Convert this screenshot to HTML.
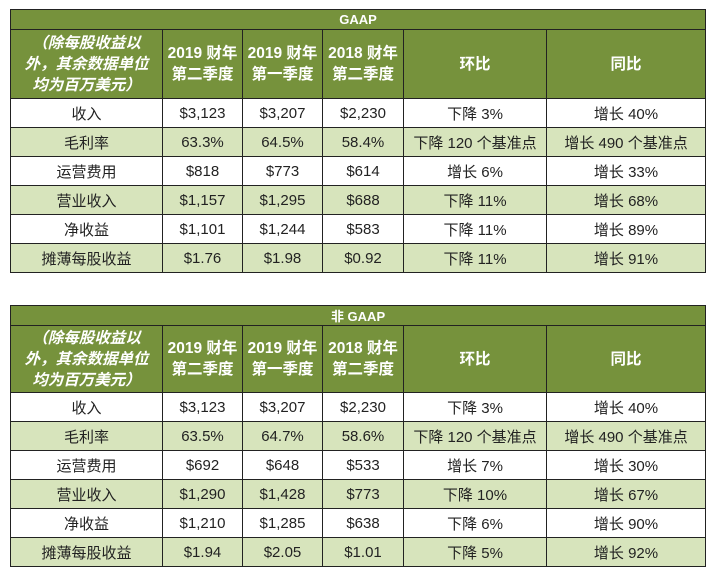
<!DOCTYPE html><html><head><meta charset="utf-8"><style>
body{margin:0;background:#fff;width:713px;height:576px;overflow:hidden;font-family:"Liberation Sans","Noto Sans CJK SC",sans-serif}
table{position:absolute;left:10px;border-collapse:collapse;table-layout:fixed;width:695px}
td{border:1px solid #222;text-align:center;padding:0;font-size:15px;color:#222;white-space:nowrap;vertical-align:middle}
.t td{background:#76923c;color:#fff;font-weight:bold;height:19px;font-size:13px}
.h td{background:#76923c;color:#fff;font-weight:bold;font-size:15.5px;line-height:21px}
.h td.i{font-style:italic;font-weight:bold}
.g td{background:#d7e4bc}
</style></head><body>
<table style="top:9px">
<colgroup><col style="width:152px"><col style="width:80px"><col style="width:80px"><col style="width:81px"><col style="width:143px"><col style="width:159px"></colgroup>
<tr class="t"><td colspan="6">GAAP</td></tr>
<tr class="h" style="height:69px"><td class="i">（除每股收益以<br>外，其余数据单位<br>均为百万美元）</td><td>2019 财年<br>第二季度</td><td>2019 财年<br>第一季度</td><td>2018 财年<br>第二季度</td><td>环比</td><td>同比</td></tr>
<tr style="height:29px"><td>收入</td><td>$3,123</td><td>$3,207</td><td>$2,230</td><td>下降 3%</td><td>增长 40%</td></tr>
<tr class="g" style="height:29px"><td>毛利率</td><td>63.3%</td><td>64.5%</td><td>58.4%</td><td>下降 120 个基准点</td><td>增长 490 个基准点</td></tr>
<tr style="height:29px"><td>运营费用</td><td>$818</td><td>$773</td><td>$614</td><td>增长 6%</td><td>增长 33%</td></tr>
<tr class="g" style="height:29px"><td>营业收入</td><td>$1,157</td><td>$1,295</td><td>$688</td><td>下降 11%</td><td>增长 68%</td></tr>
<tr style="height:29px"><td>净收益</td><td>$1,101</td><td>$1,244</td><td>$583</td><td>下降 11%</td><td>增长 89%</td></tr>
<tr class="g" style="height:29px"><td>摊薄每股收益</td><td>$1.76</td><td>$1.98</td><td>$0.92</td><td>下降 11%</td><td>增长 91%</td></tr>
</table>
<table style="top:305px">
<colgroup><col style="width:152px"><col style="width:80px"><col style="width:80px"><col style="width:81px"><col style="width:143px"><col style="width:159px"></colgroup>
<tr class="t"><td colspan="6">非 GAAP</td></tr>
<tr class="h" style="height:67px"><td class="i">（除每股收益以<br>外，其余数据单位<br>均为百万美元）</td><td>2019 财年<br>第二季度</td><td>2019 财年<br>第一季度</td><td>2018 财年<br>第二季度</td><td>环比</td><td>同比</td></tr>
<tr style="height:29px"><td>收入</td><td>$3,123</td><td>$3,207</td><td>$2,230</td><td>下降 3%</td><td>增长 40%</td></tr>
<tr class="g" style="height:29px"><td>毛利率</td><td>63.5%</td><td>64.7%</td><td>58.6%</td><td>下降 120 个基准点</td><td>增长 490 个基准点</td></tr>
<tr style="height:29px"><td>运营费用</td><td>$692</td><td>$648</td><td>$533</td><td>增长 7%</td><td>增长 30%</td></tr>
<tr class="g" style="height:29px"><td>营业收入</td><td>$1,290</td><td>$1,428</td><td>$773</td><td>下降 10%</td><td>增长 67%</td></tr>
<tr style="height:29px"><td>净收益</td><td>$1,210</td><td>$1,285</td><td>$638</td><td>下降 6%</td><td>增长 90%</td></tr>
<tr class="g" style="height:29px"><td>摊薄每股收益</td><td>$1.94</td><td>$2.05</td><td>$1.01</td><td>下降 5%</td><td>增长 92%</td></tr>
</table>
</body></html>
